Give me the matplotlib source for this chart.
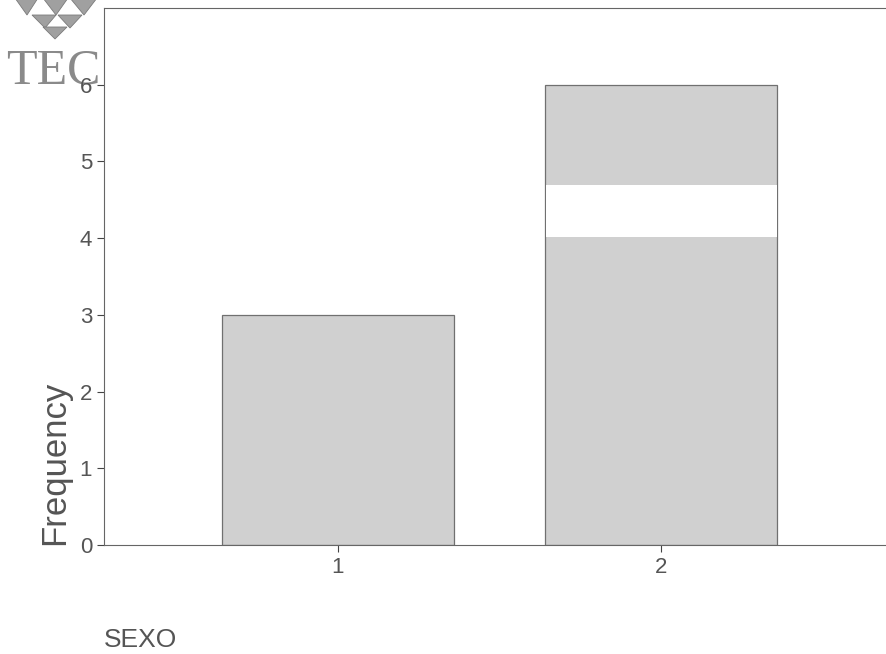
import matplotlib
matplotlib.use("Agg")
import matplotlib.pyplot as plt
from matplotlib.patches import Polygon, Rectangle

# data
categories = [1, 2]
frequency = [3, 6]
yticks = [0, 1, 2, 3, 4, 5, 6]

plt.rcParams['font.family'] = ['Liberation Sans', 'DejaVu Sans']
txt = '#555555'

fig = plt.figure(figsize=(8.87, 6.54), dpi=100)

# logo bits (TEC + triangles) sitting behind the axes
fig.text(6/887, 1 - 84/654, 'TEC', family='Liberation Serif', fontsize=36,
         color='#8a8a8a', zorder=-5)
tri = [(15, -2, 38, -2, 27, 15), (43, -2, 68, -2, 56, 15), (70, -2, 97, -2, 84, 15),
       (32, 15, 56, 15, 45, 28), (58, 15, 82, 15, 70, 28), (43, 27, 67, 27, 55, 39)]
for t in tri:
    pts = [(t[0]/887, 1 - t[1]/654), (t[2]/887, 1 - t[3]/654), (t[4]/887, 1 - t[5]/654)]
    fig.patches.append(Polygon(pts, closed=True, transform=fig.transFigure,
                               facecolor='#a0a0a0', edgecolor='#7a7a7a', lw=0.6, zorder=-5))

ax = fig.add_axes([104/887, 1 - 545/654, 1 - 104/887, (545 - 8)/654])
ax.set_zorder(1)

bars = ax.bar(categories, frequency, width=0.717, color='#d0d0d0',
              edgecolor='#707070', linewidth=0.9)

# white streak across the second bar in the scan
b = bars[1]
ax.add_patch(Rectangle((b.get_x() + 0.003, 4.02), b.get_width() - 0.006, 0.67,
                       facecolor='white', edgecolor='none', zorder=3))

ax.set_xlim(0.277, 2.697)
ax.set_ylim(0, 7)
ax.set_xticks(categories)
ax.set_yticks(yticks)
ax.tick_params(colors='#444444', labelcolor=txt, labelsize=16, length=5, width=0.8)
ax.spines['right'].set_visible(False)
for s in ['left', 'bottom', 'top']:
    ax.spines[s].set_color('#666666')
    ax.spines[s].set_linewidth(0.8)

# SPSS puts the axis title low, next to the origin
fig.text(55/887, 1 - 463/654, 'Frequency', fontsize=25, color=txt,
         rotation=90, ha='center', va='center')
fig.text(104/887, 1 - 647/654, 'SEXO', fontsize=19, color=txt)

fig.savefig('out.png', dpi=100)
